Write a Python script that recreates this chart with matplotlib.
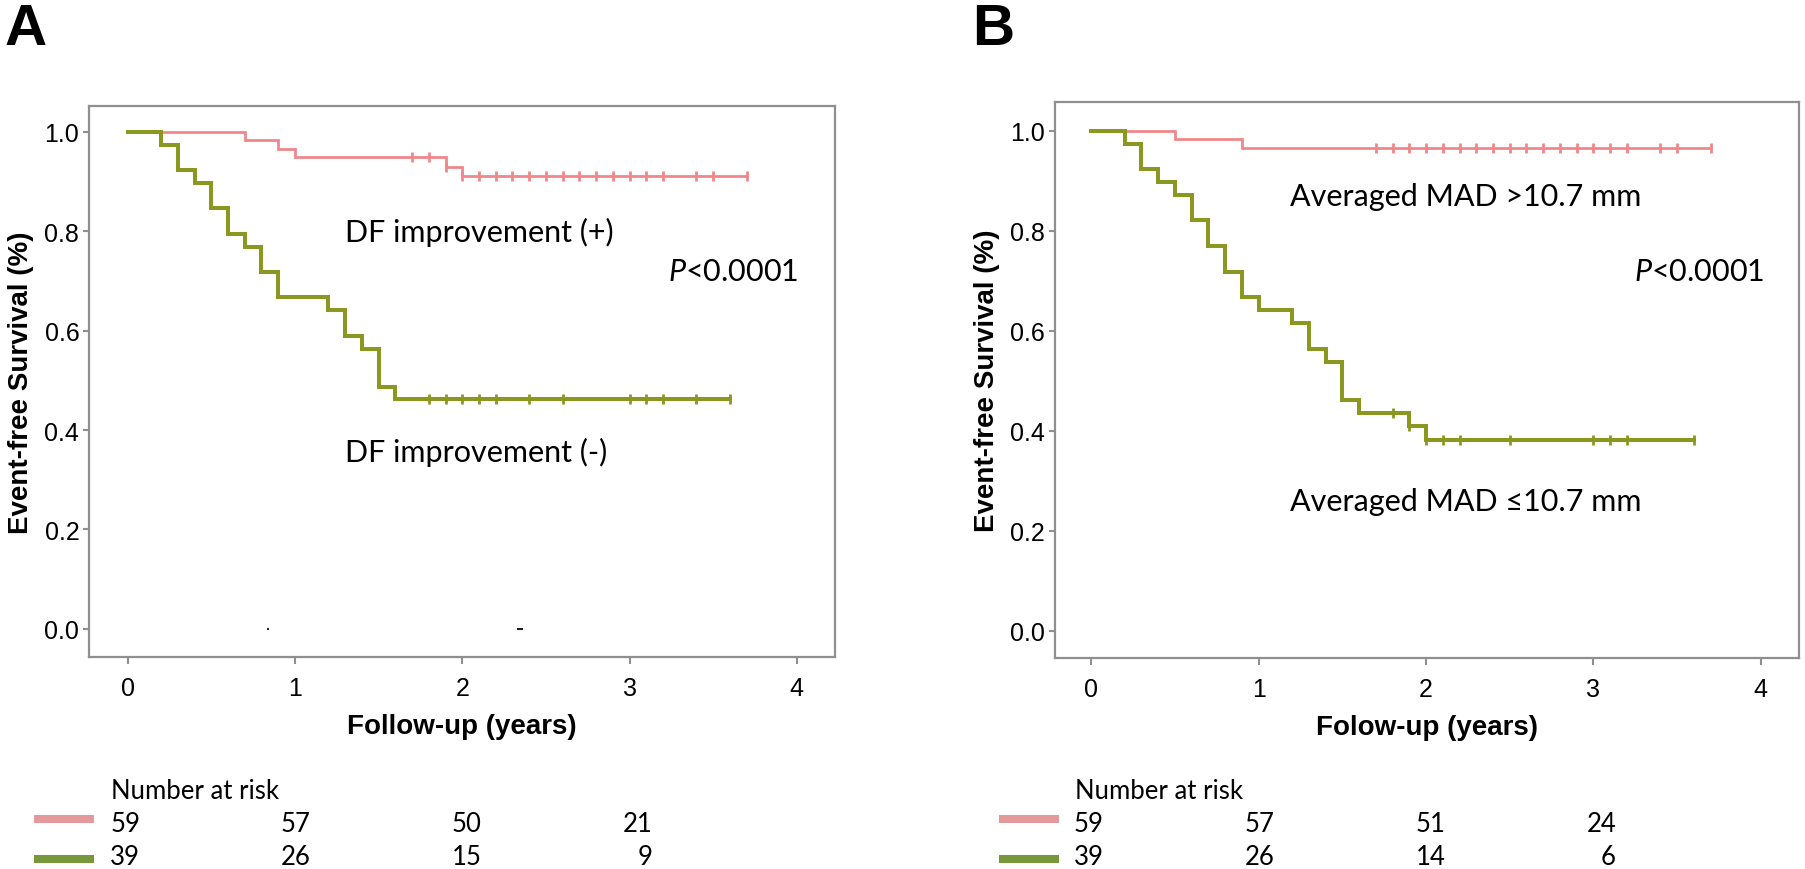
import numpy as np
import matplotlib
matplotlib.use("Agg")
import matplotlib.pyplot as plt
import matplotlib.transforms as mtransforms

plt.rcParams["mathtext.fontset"] = "custom"
plt.rcParams["mathtext.it"] = "Lato:italic"
plt.rcParams["mathtext.rm"] = "Lato"

# ---------------- data ----------------
# Panel A
A_pos_times = [0, 0.7, 0.9, 1.0, 1.9, 2.0, 3.7]
A_pos_surv = [1.0, 0.983, 0.966, 0.949, 0.930, 0.911, 0.911]
A_pos_censor = [1.7, 1.8, 1.9, 2.0, 2.1, 2.2, 2.3, 2.4, 2.5, 2.6, 2.7, 2.8, 2.9,
                3.0, 3.1, 3.2, 3.4, 3.5, 3.7]
A_neg_times = [0, 0.2, 0.3, 0.4, 0.5, 0.6, 0.7, 0.8, 0.9, 1.2, 1.3, 1.4, 1.5, 1.6, 3.6]
A_neg_surv = [1.0, 0.974, 0.923, 0.897, 0.846, 0.795, 0.769, 0.718, 0.667, 0.641,
              0.590, 0.564, 0.487, 0.462, 0.462]
A_neg_censor = [1.8, 1.9, 2.0, 2.1, 2.2, 2.4, 2.6, 3.0, 3.1, 3.2, 3.4, 3.6]
A_artifact_t = [0.837, 2.345]
A_artifact_s = [0.0, 0.0]
A_risk_pos = [59, 57, 50, 21]
A_risk_neg = [39, 26, 15, 9]
A_label_pos = "DF improvement (+)"
A_label_neg = "DF improvement (-)"
A_xlabel = "Follow-up (years)"

# Panel B
B_pos_times = [0, 0.5, 0.9, 3.7]
B_pos_surv = [1.0, 0.983, 0.966, 0.966]
B_pos_censor = [1.7, 1.8, 1.9, 2.0, 2.1, 2.2, 2.3, 2.4, 2.5, 2.6, 2.7, 2.8, 2.9,
                3.0, 3.1, 3.2, 3.4, 3.5, 3.7]
B_neg_times = [0, 0.2, 0.3, 0.4, 0.5, 0.6, 0.7, 0.8, 0.9, 1.0, 1.2, 1.3, 1.4, 1.5,
               1.6, 1.9, 2.0, 3.6]
B_neg_surv = [1.0, 0.974, 0.923, 0.897, 0.872, 0.821, 0.769, 0.718, 0.667, 0.641,
              0.615, 0.564, 0.538, 0.462, 0.436, 0.409, 0.381, 0.381]
B_neg_censor = [1.8, 1.9, 2.0, 2.1, 2.2, 2.5, 3.0, 3.1, 3.2, 3.6]
B_risk_pos = [59, 57, 51, 24]
B_risk_neg = [39, 26, 14, 6]
B_label_pos = "Averaged MAD >10.7 mm"
B_label_neg = "Averaged MAD \u226410.7 mm"
B_xlabel = "Folow-up (years)"

risk_times = [0, 1, 2, 3]
x_ticks = [0, 1, 2, 3, 4]
y_ticks = [0.0, 0.2, 0.4, 0.6, 0.8, 1.0]
ylabel = "Event-free Survival (%)"
p_text = "$\\mathit{P}$<0.0001"
risk_title = "Number at risk"

# ---------------- style ----------------
RED = "#f0888b"
GREEN = "#8a981f"
RED_RISK = "#e4999b"
GREEN_RISK = "#77983a"
SPINE = "#8f8f8f"
ARIAL = ["Liberation Sans", "DejaVu Sans"]
CAL = ["Lato", "DejaVu Sans"]

W, H = 1805, 870
fig = plt.figure(figsize=(W / 100, H / 100), dpi=100)


def fx(px):
    return px / W


def fy(py):
    return 1 - py / H


def km(ax, times, surv, censor, color, lw):
    ax.plot(times, surv, drawstyle="steps-post", color=color, lw=lw,
            solid_joinstyle="miter", zorder=3)
    t = np.asarray(times)
    s = np.asarray(surv)
    idx = np.searchsorted(t, censor, side="right") - 1
    ax.plot(censor, s[idx], ls="none", marker="|", ms=6.5, mew=2.0,
            color=color, zorder=4)


def panel(rect, xlim, ylim, pos, neg, risk_pos, risk_neg, lab_pos, lab_neg,
          lab_pos_xy, lab_neg_xy, p_xy, xlabel, letter, letter_x, ylab_x,
          xlab_y, legend_x0, artifacts=None):
    ax = fig.add_axes(rect)
    km(ax, *pos, RED, 2.0)
    km(ax, *neg, GREEN, 2.9)
    if artifacts is not None:
        for t, s, ms in zip(artifacts[0], artifacts[1], (2.0, 4.5)):
            ax.plot([t], [s], ls="none", marker="_", ms=ms, mew=1.5,
                    color="#222222")
    ax.set_xlim(*xlim)
    ax.set_ylim(*ylim)
    ax.set_xticks(x_ticks)
    ax.set_xticklabels([str(v) for v in x_ticks], family=ARIAL, fontsize=18)
    ax.set_yticks(y_ticks)
    ax.set_yticklabels([f"{v:.1f}" for v in y_ticks], family=ARIAL, fontsize=18)
    ax.tick_params(axis="x", length=5, width=1.5, color=SPINE, pad=9)
    ax.tick_params(axis="y", length=4, width=1.5, color=SPINE, pad=3)
    for sp in ax.spines.values():
        sp.set_color(SPINE)
        sp.set_linewidth(1.6)

    ax.text(lab_pos_xy[0], lab_pos_xy[1], lab_pos, family=CAL, fontsize=22,
            ha="left", va="center")
    ax.text(lab_neg_xy[0], lab_neg_xy[1], lab_neg, family=CAL, fontsize=22,
            ha="left", va="center")
    ax.text(p_xy[0], p_xy[1], p_text, family=CAL,
            fontsize=22, ha="left", va="center")

    bb = ax.get_position()
    cx = (bb.x0 + bb.x1) / 2
    cy = (bb.y0 + bb.y1) / 2
    fig.text(cx, fy(xlab_y), xlabel, family=ARIAL, fontsize=20,
             fontweight="bold", ha="center", va="center")
    fig.text(fx(ylab_x), cy, ylabel, family=ARIAL, fontsize=20,
             fontweight="bold", ha="center", va="center", rotation=90)
    fig.text(fx(letter_x), fy(45), letter, family=ARIAL, fontsize=42,
             fontweight="bold", ha="left", va="baseline")

    # number at risk table (numbers right-aligned near each year tick)
    trans = mtransforms.blended_transform_factory(ax.transData, fig.transFigure)
    ax.text(-0.10, fy(792), risk_title, transform=trans, family=CAL,
            fontsize=18.5, ha="left", va="center", clip_on=False)
    xr = np.asarray(risk_times) * 1.02 + 0.075
    for vals, ypix in ((risk_pos, 825), (risk_neg, 858)):
        for t, v in zip(xr, vals):
            ax.text(t, fy(ypix), str(v), transform=trans, family=CAL,
                    fontsize=18.5, ha="right", va="center", clip_on=False)
    for col, ypix in ((RED_RISK, 820), (GREEN_RISK, 860)):
        fig.add_artist(plt.Line2D([fx(legend_x0), fx(legend_x0 + 60)],
                                  [fy(ypix), fy(ypix)], color=col, lw=5.8,
                                  solid_capstyle="butt"))
    return ax


panel([fx(89), fy(657.7), fx(835) - fx(89), fy(107) - fy(657.7)],
      (-0.231, 4.228), (-0.056, 1.052),
      (A_pos_times, A_pos_surv, A_pos_censor),
      (A_neg_times, A_neg_surv, A_neg_censor),
      A_risk_pos, A_risk_neg, A_label_pos, A_label_neg,
      (1.30, 0.80), (1.30, 0.356), (3.23, 0.72), A_xlabel,
      "A", 5, 21.5, 727, 34, artifacts=(A_artifact_t, A_artifact_s))

panel([fx(1054.6), fy(658.6), fx(1799) - fx(1054.6), fy(103.3) - fy(658.6)],
      (-0.219, 4.228), (-0.054, 1.057),
      (B_pos_times, B_pos_surv, B_pos_censor),
      (B_neg_times, B_neg_surv, B_neg_censor),
      B_risk_pos, B_risk_neg, B_label_pos, B_label_neg,
      (1.19, 0.87), (1.19, 0.26), (3.24, 0.72), B_xlabel,
      "B", 972, 986.5, 728, 999)

fig.savefig("out.png", dpi=100)
